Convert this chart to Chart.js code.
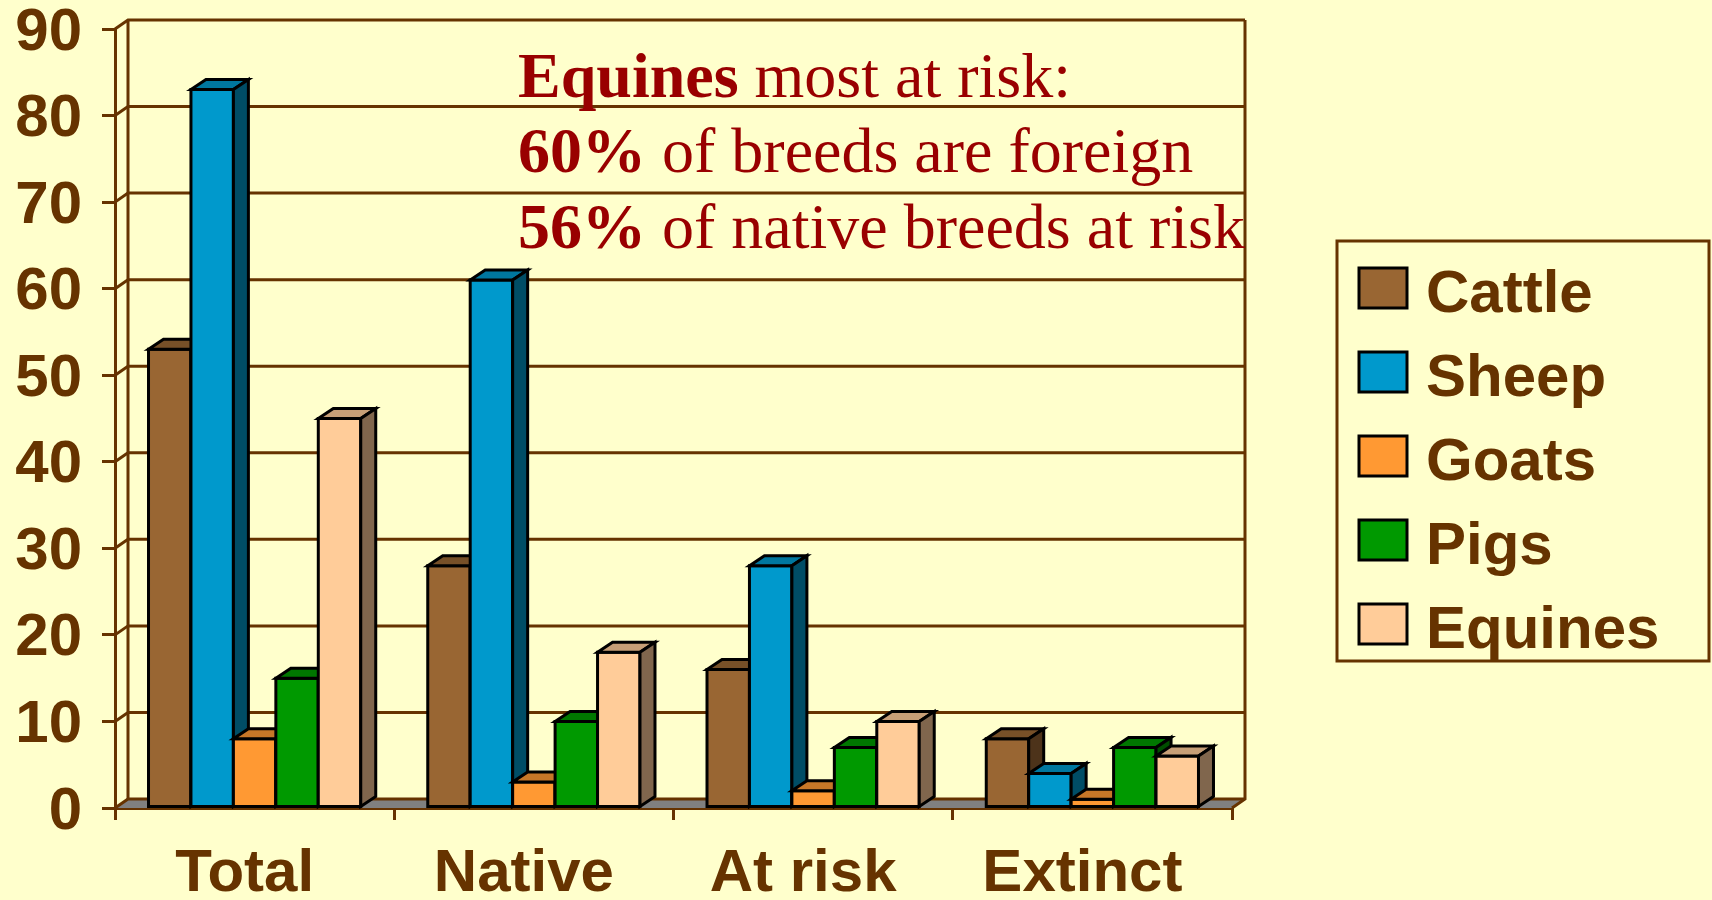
<!DOCTYPE html>
<html>
<head>
<meta charset="utf-8">
<script src="https://cdn.jsdelivr.net/npm/chart.js@4.4.0/dist/chart.umd.min.js"></script>
<style>
  html, body { margin: 0; padding: 0; background: #FFFFCC; }
  #wrap { width: 1712px; height: 900px; }
</style>
</head>
<body>
<div id="wrap"><canvas id="chart" width="1712" height="900"></canvas></div>
<script>
// data
const categories = ['Total', 'Native', 'At risk', 'Extinct'];
const cattle  = [53, 28, 16, 8];
const sheep   = [83, 61, 28, 4];
const goats   = [8, 3, 2, 1];
const pigs    = [15, 10, 7, 7];
const equines = [45, 18, 10, 6];
const seriesNames = ['Cattle', 'Sheep', 'Goats', 'Pigs', 'Equines'];
const seriesColors = ['#996633', '#0099CC', '#FF9933', '#009900', '#FFCC99'];
const yMin = 0, yMax = 90, yStep = 10;
const noteLines = [
  ['Equines', ' most at risk:'],
  ['60%', ' of breeds are foreign'],
  ['56%', ' of native breeds at risk']
];

const BROWN = '#663300';
const SANS = '"Liberation Sans", Arial, sans-serif';
const SERIF = '"Liberation Serif", "Times New Roman", serif';
const DX = 13, DY = 9;      // wall depth
const BDX = 15, BDY = 10;   // bar depth

function shade(hex, f) {
  const n = parseInt(hex.slice(1), 16);
  const r = Math.round(((n >> 16) & 255) * f);
  const g = Math.round(((n >> 8) & 255) * f);
  const b = Math.round((n & 255) * f);
  return `rgb(${r},${g},${b})`;
}

function poly(ctx, pts, fill) {
  ctx.beginPath();
  ctx.moveTo(pts[0][0], pts[0][1]);
  for (let i = 1; i < pts.length; i++) ctx.lineTo(pts[i][0], pts[i][1]);
  ctx.closePath();
  ctx.fillStyle = fill;
  ctx.fill();
  ctx.stroke();
}

const box3d = {
  id: 'box3d',
  beforeDatasetsDraw(chart) {
    const { ctx, chartArea: a, scales: { y } } = chart;
    ctx.save();
    // floor
    ctx.fillStyle = '#808080';
    ctx.beginPath();
    ctx.moveTo(a.left, a.bottom);
    ctx.lineTo(a.right, a.bottom);
    ctx.lineTo(a.right + DX, a.bottom - DY);
    ctx.lineTo(a.left + DX, a.bottom - DY);
    ctx.closePath();
    ctx.fill();

    // side wall + back wall grid
    ctx.strokeStyle = BROWN;
    ctx.lineWidth = 3;
    y.ticks.forEach(t => {
      const py = y.getPixelForValue(t.value);
      ctx.beginPath();
      ctx.moveTo(a.left, py);
      ctx.lineTo(a.left + DX, py - DY);
      ctx.lineTo(a.right + DX, py - DY);
      ctx.stroke();
    });
    ctx.beginPath();
    ctx.moveTo(a.left + DX, a.top - DY);
    ctx.lineTo(a.left + DX, a.bottom - DY);
    ctx.moveTo(a.right + DX, a.top - DY);
    ctx.lineTo(a.right + DX, a.bottom - DY);
    ctx.lineTo(a.right, a.bottom);
    ctx.stroke();
    ctx.restore();
  },
  afterDatasetsDraw(chart) {
    // redraw boxes left to right so each bar hides the side of the one before
    const ctx = chart.ctx;
    const metas = chart.data.datasets.map((ds, i) => chart.getDatasetMeta(i));
    ctx.save();
    ctx.strokeStyle = '#000';
    ctx.lineWidth = 3;
    ctx.lineJoin = 'miter';
    chart.data.labels.forEach((lab, j) => {
      metas.forEach((meta, i) => {
        const color = chart.data.datasets[i].backgroundColor;
        const el = meta.data[j];
        const { x, y, base, width } = el.getProps(['x', 'y', 'base', 'width'], true);
        const l = x - width / 2, r = x + width / 2;
        poly(ctx, [[l, y], [r, y], [r, base], [l, base]], color);
        poly(ctx, [[l, y], [r, y], [r + BDX, y - BDY], [l + BDX, y - BDY]], shade(color, 0.78));
        poly(ctx, [[r, y], [r + BDX, y - BDY], [r + BDX, base - BDY], [r, base]], shade(color, 0.5));
      });
    });
    ctx.restore();
  },
  afterDraw(chart) {
    const ctx = chart.ctx;
    ctx.save();
    // note text
    ctx.fillStyle = '#990000';
    ctx.textBaseline = 'alphabetic';
    const baselines = [97, 172, 248];
    noteLines.forEach((ln, i) => {
      let x = 518;
      ctx.font = `bold 64px ${SERIF}`;
      ctx.fillText(ln[0], x, baselines[i]);
      x += ctx.measureText(ln[0]).width;
      ctx.font = `64px ${SERIF}`;
      ctx.fillText(ln[1], x, baselines[i]);
    });

    // legend
    ctx.strokeStyle = BROWN;
    ctx.lineWidth = 3;
    ctx.strokeRect(1337, 241, 372, 420);
    ctx.font = `bold 60px ${SANS}`;
    chart.data.datasets.forEach((ds, i) => {
      const top = 268 + i * 84;
      ctx.fillStyle = ds.backgroundColor;
      ctx.fillRect(1359, top, 48, 40);
      ctx.strokeStyle = '#000';
      ctx.strokeRect(1359, top, 48, 40);
      ctx.fillStyle = BROWN;
      ctx.fillText(ds.label, 1426, top + 44);
    });
    ctx.restore();
  }
};

const seriesData = [cattle, sheep, goats, pigs, equines];
const datasets = seriesNames.map((name, i) => ({
  label: name,
  data: seriesData[i],
  backgroundColor: seriesColors[i],
  borderColor: '#000',
  borderWidth: 3,
  borderSkipped: false,
  categoryPercentage: 0.76,
  barPercentage: 1
}));

const axisFont = { family: SANS, size: 60, weight: 'bold' };

new Chart(document.getElementById('chart'), {
  type: 'bar',
  data: { labels: categories, datasets },
  options: {
    responsive: false,
    animation: false,
    devicePixelRatio: 1,
    events: [],
    layout: { autoPadding: false, padding: { top: 28, right: 480, bottom: 0, left: 0 } },
    plugins: { legend: { display: false }, tooltip: { enabled: false } },
    scales: {
      x: {
        grid: { drawOnChartArea: false, tickLength: 12, color: BROWN, lineWidth: 3 },
        border: { display: true, color: BROWN, width: 3 },
        ticks: { font: axisFont, color: BROWN, padding: 18, labelOffset: -10, maxRotation: 0, autoSkip: false },
        afterFit(s) { s.height = 92; }
      },
      y: {
        min: yMin, max: yMax,
        grid: { drawOnChartArea: false, tickLength: 13, color: BROWN, lineWidth: 3 },
        border: { display: true, color: BROWN, width: 3 },
        ticks: { stepSize: yStep, font: { ...axisFont, lineHeight: 0.3 }, color: BROWN, padding: 20, labelOffset: 4 },
        afterFit(s) { s.width = 115; }
      }
    }
  },
  plugins: [box3d]
});
</script>
</body>
</html>
